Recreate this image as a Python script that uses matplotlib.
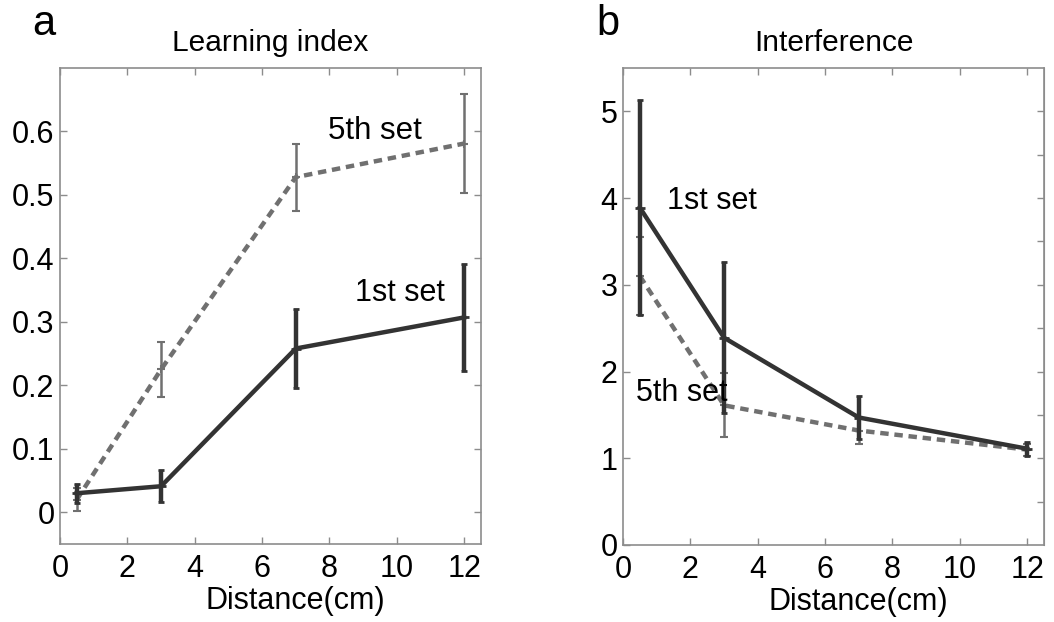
import numpy as np
import matplotlib
matplotlib.use("Agg")
import matplotlib.pyplot as plt

plt.rcParams['font.family'] = ['Liberation Sans', 'DejaVu Sans']

# distances (cm)
distance = [0.5, 3, 7, 12]

# learning index
learn_first = [0.030, 0.041, 0.258, 0.307]
learn_first_err = [0.015, 0.025, 0.062, 0.084]
learn_fifth = [0.020, 0.225, 0.528, 0.581]
learn_fifth_err = [0.018, 0.044, 0.053, 0.078]

# interference
interf_first = [3.89, 2.39, 1.47, 1.11]
interf_first_err = [1.24, 0.87, 0.25, 0.08]
interf_fifth = [3.10, 1.61, 1.32, 1.10]
interf_fifth_err = [0.45, 0.37, 0.16, 0.07]

dark = '#333333'
grey = '#707070'
spine_col = '#8c8c8c'

fig = plt.figure(figsize=(10.54, 6.22), dpi=100)
ax_a = fig.add_axes([0.0569, 0.1254, 0.3995, 0.7653])
ax_b = fig.add_axes([0.5911, 0.1238, 0.3994, 0.7669])


def draw_sets(ax, y1, e1, y5, e5):
    ax.errorbar(distance, y5, yerr=e5, color=grey, lw=3.2, ls=(0, (1.9, 1.3)),
                elinewidth=1.8, capsize=3, capthick=1.8, marker='+', ms=6, mew=1.5,
                zorder=2)
    ax.errorbar(distance, y1, yerr=e1, color=dark, lw=3.2, ls='-',
                elinewidth=3.2, capsize=2.5, capthick=3, marker='+', ms=7, mew=2,
                zorder=3)


def style_axes(ax):
    ax.set_xlim(0, 12.5)
    ax.set_xticks([0, 2, 4, 6, 8, 10, 12])
    for s in ax.spines.values():
        s.set_color(spine_col)
        s.set_linewidth(1.2)
    ax.tick_params(direction='in', length=5, width=1, color=spine_col,
                   labelsize=22, top=True, pad=4)
    ax.tick_params(axis='x', pad=7)
    ax.set_xlabel('Distance(cm)', fontsize=22, va='center')
    ax.xaxis.set_label_coords(0.56, -0.12)


# a: learning index
draw_sets(ax_a, learn_first, learn_first_err, learn_fifth, learn_fifth_err)
style_axes(ax_a)
ax_a.set_ylim(-0.05, 0.7)
ax_a.set_yticks([0, 0.1, 0.2, 0.3, 0.4, 0.5, 0.6])
ax_a.set_yticklabels(['0', '0.1', '0.2', '0.3', '0.4', '0.5', '0.6'])
ax_a.tick_params(right=True)
ax_a.set_title('Learning index', fontsize=21.5, pad=12)
ax_a.text(7.95, 0.600, '5th set', fontsize=22.5, va='center')
ax_a.text(8.75, 0.346, '1st set', fontsize=22, va='center')

# b: interference
draw_sets(ax_b, interf_first, interf_first_err, interf_fifth, interf_fifth_err)
style_axes(ax_b)
ax_b.set_ylim(0, 5.5)
ax_b.set_yticks([0, 1, 2, 3, 4, 5])
ax_b.tick_params(right=False)
sec = ax_b.secondary_yaxis('right')
sec.set_yticks(np.arange(0.5, 5.5, 0.5))
sec.tick_params(direction='in', length=5, width=1, color=spine_col, labelright=False)
sec.spines['right'].set_color(spine_col)
ax_b.set_title('Interference', fontsize=21.5, pad=12)
ax_b.text(1.3, 3.97, '1st set', fontsize=22, va='center')
ax_b.text(0.39, 1.75, '5th set', fontsize=22, va='center')

# panel letters
fig.text(0.031, 0.944, 'a', fontsize=30, va='baseline')
fig.text(0.566, 0.944, 'b', fontsize=30, va='baseline')

fig.savefig('out.png', dpi=100)
